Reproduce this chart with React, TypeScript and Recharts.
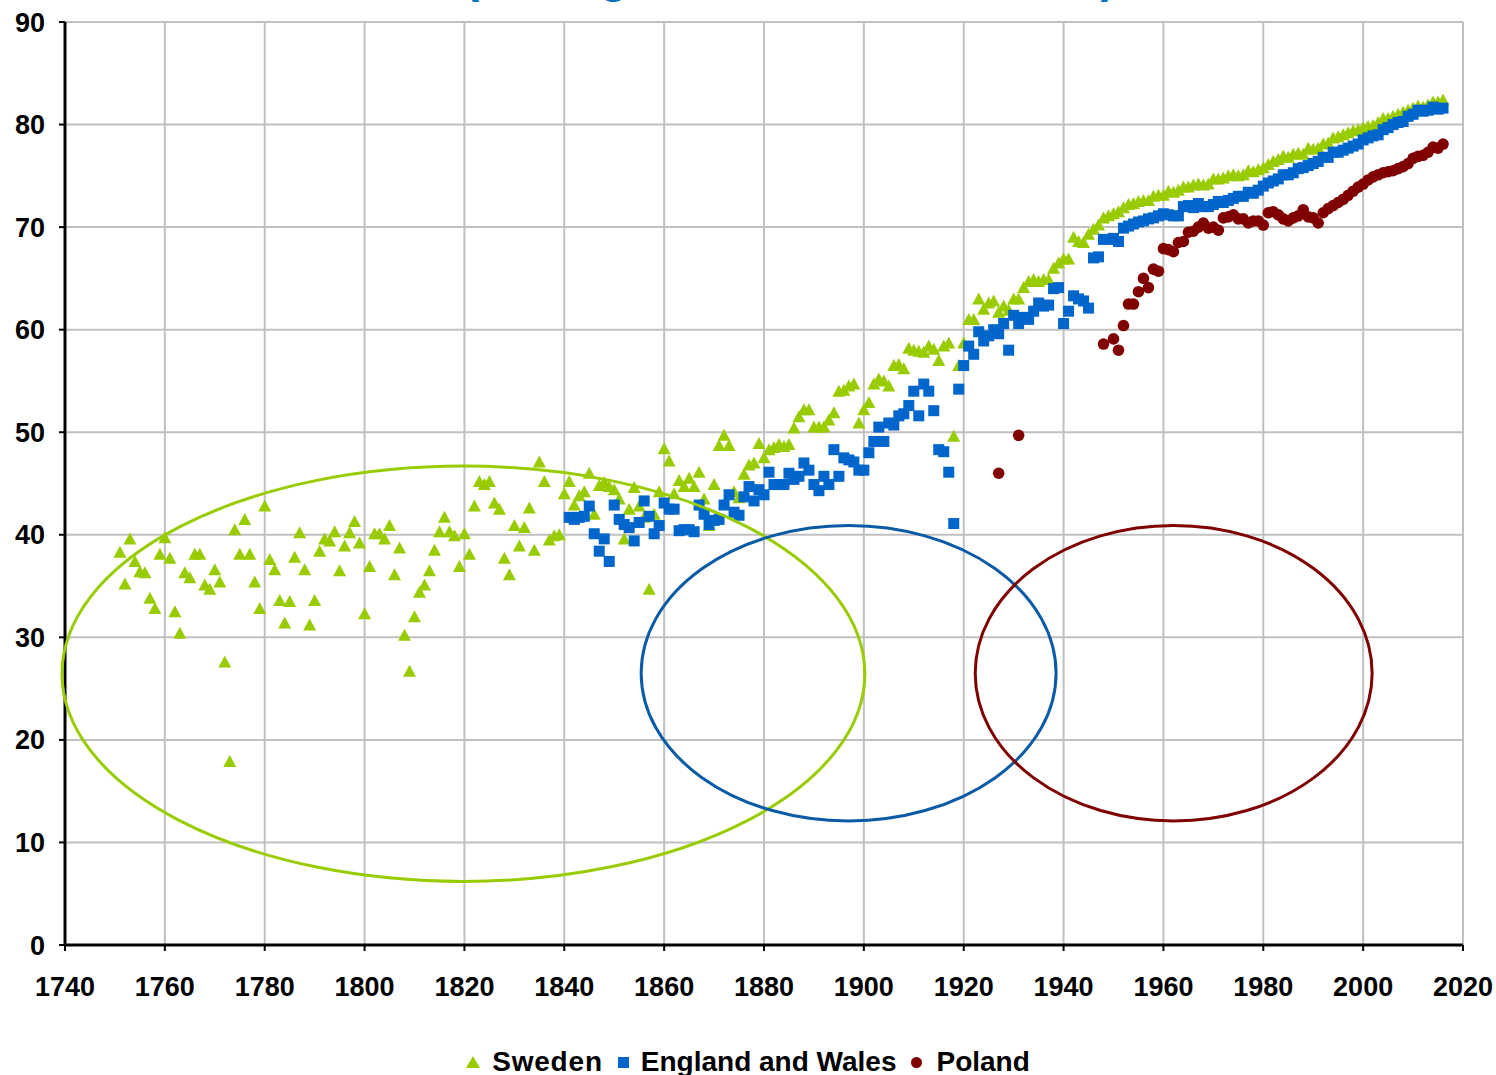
import React from "react";
import {
  ScatterChart,
  Scatter,
  XAxis,
  YAxis,
  CartesianGrid,
  ReferenceArea,
  Legend,
} from "recharts";

// axis ticks
const yearTicks = [1740, 1760, 1780, 1800, 1820, 1840, 1860, 1880, 1900, 1920, 1940, 1960, 1980, 2000, 2020];
const valueTicks = [0, 10, 20, 30, 40, 50, 60, 70, 80, 90];

// Sweden, one value per year from 1751
const swedenFirstYear = 1751;
const swedenValues = [
  38.3, 35.2, 39.6, 37.4, 36.4, 36.3, 33.8, 32.8, 38.1, 39.7, // 1751-1760
  37.7, 32.5, 30.4, 36.3, 35.8, 38.1, 38.1, 35.1, 34.7, 36.6, // 1761-1770
  35.4, 27.6, 17.9, 40.5, 38.1, 41.5, 38.1, 35.4, 32.8, 42.8, // 1771-1780
  37.6, 36.6, 33.6, 31.4, 33.5, 37.8, 40.2, 36.6, 31.2, 33.6, // 1781-1790
  38.4, 39.6, 39.4, 40.3, 36.5, 38.9, 40.2, 41.3, 39.2, 32.3, // 1791-1800
  36.9, 40.1, 40.1, 39.6, 40.9, 36.1, 38.7, 30.2, 26.7, 32.0, // 1801-1810
  34.4, 35.1, 36.5, 38.5, 40.3, 41.7, 40.3, 39.9, 36.9, 40.1, // 1811-1820
  38.1, 42.8, 45.2, 44.9, 45.2, 43.1, 42.5, 37.7, 36.1, 40.9, // 1821-1830
  38.9, 40.7, 42.6, 38.5, 47.1, 45.2, 39.5, 39.9, 40.0, 44.0, // 1831-1840
  45.2, 42.9, 43.8, 44.2, 46.0, 42.0, 44.8, 45.1, 44.7, 44.4, // 1841-1850
  43.5, 39.6, 42.5, 44.6, 42.8, 41.7, 34.7, 42.0, 44.2, 48.4, // 1851-1860
  47.2, 44.0, 45.3, 44.7, 45.5, 44.7, 46.1, 43.5, 40.9, 44.9, // 1861-1870
  48.7, 49.7, 48.7, 44.2, 43.6, 45.9, 46.8, 47.0, 48.9, 47.5, // 1871-1880
  48.3, 48.5, 48.8, 48.6, 48.8, 50.4, 51.5, 52.2, 52.2, 50.5, // 1881-1890
  50.5, 50.5, 51.2, 51.9, 54.0, 54.1, 54.5, 54.7, 50.9, 52.2, // 1891-1900
  52.9, 54.7, 55.2, 55.0, 54.5, 56.5, 56.6, 56.2, 58.2, 58.0, // 1901-1910
  57.9, 57.8, 58.4, 58.1, 57.0, 58.4, 58.7, 49.6, 56.5, 58.7, // 1911-1920
  61.0, 61.0, 63.0, 62.0, 62.6, 62.8, 61.7, 62.3, 61.9, 63.0, // 1921-1930
  63.0, 64.1, 64.7, 64.9, 64.7, 64.9, 64.9, 66.0, 66.5, 66.9, // 1931-1940
  66.9, 69.0, 68.6, 68.5, 69.3, 69.8, 70.2, 70.9, 71.1, 71.3, // 1941-1950
  71.5, 71.9, 72.2, 72.3, 72.5, 72.6, 72.6, 73.0, 73.1, 73.1, // 1951-1960
  73.5, 73.4, 73.6, 73.9, 73.9, 74.1, 74.2, 74.1, 74.2, 74.7, // 1961-1970
  74.7, 74.8, 75.0, 75.1, 75.0, 75.1, 75.5, 75.4, 75.6, 75.8, // 1971-1980
  76.1, 76.4, 76.6, 76.9, 76.8, 77.1, 77.2, 77.1, 77.7, 77.6, // 1981-1990
  77.7, 78.1, 78.2, 78.7, 78.8, 79.0, 79.2, 79.4, 79.5, 79.7, // 1991-2000
  79.8, 79.9, 80.2, 80.6, 80.6, 80.8, 81.0, 81.2, 81.4, 81.6, // 2001-2010
  81.8, 81.7, 81.9, 82.2, 82.2, 82.4, // 2011-2016
];

// England and Wales, one value per year from 1841
const englandFirstYear = 1841;
const englandValues = [
  41.7, 41.5, 41.7, 41.8, 42.8, 40.1, 38.4, 39.6, 37.4, 42.9, // 1841-1850
  41.5, 41.0, 40.7, 39.4, 41.2, 43.3, 41.8, 40.1, 40.9, 43.1, // 1851-1860
  42.5, 42.5, 40.4, 40.5, 40.5, 40.3, 42.9, 42.0, 41.0, 41.4, // 1861-1870
  41.5, 42.9, 43.9, 42.2, 41.9, 43.7, 44.7, 43.3, 44.4, 43.9, // 1871-1880
  46.1, 44.9, 44.9, 44.9, 46.0, 45.4, 45.7, 47.0, 46.3, 44.9, // 1881-1890
  44.3, 45.7, 44.9, 48.3, 45.7, 47.5, 47.3, 47.1, 46.3, 46.3, // 1891-1900
  48.0, 49.1, 50.5, 49.1, 50.9, 50.7, 51.6, 51.8, 52.6, 54.0, // 1901-1910
  51.6, 54.7, 54.0, 52.1, 48.3, 48.1, 46.1, 41.1, 54.2, 56.5, // 1911-1920
  58.4, 57.6, 59.8, 58.9, 59.4, 60.0, 59.6, 60.6, 58.0, 61.4, // 1921-1930
  60.6, 61.2, 61.0, 61.8, 62.6, 62.3, 62.4, 64.0, 64.1, 60.6, // 1931-1940
  61.8, 63.3, 63.0, 62.8, 62.1, 67.0, 67.1, 68.8, 68.8, 68.9, // 1941-1950
  68.6, 69.9, 70.1, 70.3, 70.5, 70.6, 70.8, 70.9, 71.1, 71.3, // 1951-1960
  71.2, 71.1, 71.1, 72.0, 72.1, 71.9, 72.3, 72.0, 72.0, 72.2, // 1961-1970
  72.5, 72.4, 72.6, 72.8, 73.0, 73.0, 73.4, 73.3, 73.6, 74.0, // 1971-1980
  74.3, 74.5, 74.7, 75.1, 75.1, 75.3, 75.7, 75.8, 76.0, 76.2, // 1981-1990
  76.4, 76.8, 76.8, 77.3, 77.3, 77.5, 77.7, 77.9, 78.1, 78.5, // 1991-2000
  78.7, 78.9, 79.0, 79.5, 79.7, 80.0, 80.2, 80.3, 80.8, 81.0, // 2001-2010
  81.4, 81.3, 81.4, 81.7, 81.5, 81.6, // 2011-2016
];

// Poland, scattered early years then 1948, 1950-2016
const polandYears = [
  1927, 1931, 1948,
  1950, 1951, 1952, 1953, 1954, 1955, 1956, 1957, 1958, 1959,
  1960, 1961, 1962, 1963, 1964, 1965, 1966, 1967, 1968, 1969,
  1970, 1971, 1972, 1973, 1974, 1975, 1976, 1977, 1978, 1979,
  1980, 1981, 1982, 1983, 1984, 1985, 1986, 1987, 1988, 1989,
  1990, 1991, 1992, 1993, 1994, 1995, 1996, 1997, 1998, 1999,
  2000, 2001, 2002, 2003, 2004, 2005, 2006, 2007, 2008, 2009,
  2010, 2011, 2012, 2013, 2014, 2015, 2016,
];
const polandValues = [
  46.0, 49.7, 58.6,
  59.1, 58.0, 60.4, 62.5, 62.5, 63.7, 65.0, 64.1, 65.9, 65.7,
  67.9, 67.8, 67.6, 68.5, 68.6, 69.5, 69.6, 70.0, 70.4, 69.9,
  70.0, 69.7, 70.9, 71.0, 71.2, 70.8, 70.8, 70.4, 70.6, 70.6,
  70.2, 71.4, 71.5, 71.2, 70.8, 70.6, 70.9, 71.1, 71.7, 71.0,
  70.9, 70.4, 71.4, 71.8, 72.1, 72.4, 72.7, 73.1, 73.5, 73.9,
  74.2, 74.6, 74.9, 75.1, 75.3, 75.4, 75.5, 75.7, 75.9, 76.2,
  76.7, 76.9, 77.0, 77.3, 77.8, 77.7, 78.1,
];

const sweden = swedenValues.map((value, i) => ({ year: swedenFirstYear + i, value }));
const england = englandValues.map((value, i) => ({ year: englandFirstYear + i, value }));
const poland = polandValues.map((value, i) => ({ year: polandYears[i], value }));

const GREEN = "#99cc00";
const BLUE = "#0066cc";
const RED = "#800000";
const FONT = "'Liberation Sans', Arial, sans-serif";

// highlighted regions (drawn as ellipses inside these data boxes)
const ellipses = [
  { x1: 1739.4, x2: 1900.2, y1: 6.2, y2: 46.7, color: GREEN },
  { x1: 1855.4, x2: 1938.5, y1: 12.1, y2: 40.9, color: "#0a5aa6" },
  { x1: 1922.3, x2: 2001.8, y1: 12.1, y2: 40.9, color: RED },
];

const triangle = (p: any) => (
  <polygon
    points={`${p.cx},${p.cy - 6.5} ${p.cx + 6.5},${p.cy + 5.5} ${p.cx - 6.5},${p.cy + 5.5}`}
    fill={GREEN}
  />
);
const square = (p: any) => (
  <rect x={p.cx - 5.5} y={p.cy - 5.5} width={11} height={11} fill={BLUE} />
);
const dot = (p: any) => <circle cx={p.cx} cy={p.cy} r={5.8} fill={RED} />;

const ellipseShape = (color: string) => (p: any) => (
  <ellipse
    cx={p.x + p.width / 2}
    cy={p.y + p.height / 2}
    rx={p.width / 2}
    ry={p.height / 2}
    fill="none"
    stroke={color}
    strokeWidth={3}
  />
);

const LegendContent = () => {
  const text = { fontFamily: FONT, fontWeight: "bold" as const, fontSize: 28, color: "#000" };
  return (
    <div
      style={{
        display: "flex",
        justifyContent: "center",
        alignItems: "center",
        height: 40,
        marginTop: 7,
      }}
    >
      <svg width={14} height={14} style={{ marginRight: 12 }}>
        <polygon points="7,1 14,13 0,13" fill={GREEN} />
      </svg>
      <span style={{ ...text, letterSpacing: 0.8, marginRight: 15 }}>Sweden</span>
      <svg width={11} height={11} style={{ marginRight: 12 }}>
        <rect x={0} y={0} width={11} height={11} fill={BLUE} />
      </svg>
      <span style={{ ...text, marginRight: 15 }}>England and Wales</span>
      <svg width={11} height={11} style={{ marginRight: 14 }}>
        <circle cx={5.5} cy={5.5} r={5.5} fill={RED} />
      </svg>
      <span style={text}>Poland</span>
    </div>
  );
};

const tickStyle = { fill: "#000", fontSize: 27, fontWeight: "bold", fontFamily: FONT };

export default function App() {
  return (
    <div style={{ position: "absolute", left: 0, top: 0, width: 1496, height: 1075, background: "#fff" }}>
      <ScatterChart
        width={1496}
        height={1075}
        margin={{ top: 22, right: 33, left: 10, bottom: 0 }}
      >
        <CartesianGrid stroke="#c0c0c0" strokeWidth={2} />
        <XAxis
          type="number"
          dataKey="year"
          domain={[1740, 2020]}
          ticks={yearTicks}
          interval={0}
          height={90}
          axisLine={{ stroke: "#000", strokeWidth: 3 }}
          tickLine={{ stroke: "#000", strokeWidth: 2 }}
          tickSize={6}
          tickMargin={26}
          tick={tickStyle}
        />
        <YAxis
          type="number"
          dataKey="value"
          domain={[0, 90]}
          ticks={valueTicks}
          interval={0}
          width={55}
          axisLine={{ stroke: "#000", strokeWidth: 3 }}
          tickLine={{ stroke: "#000", strokeWidth: 2 }}
          tickSize={6}
          tickMargin={14}
          tick={tickStyle}
        />
        <Scatter name="Sweden" data={sweden} shape={triangle} isAnimationActive={false} />
        <Scatter name="England and Wales" data={england} shape={square} isAnimationActive={false} />
        <Scatter name="Poland" data={poland} shape={dot} isAnimationActive={false} />
        {ellipses.map((e, i) => (
          <ReferenceArea
            key={i}
            x1={e.x1}
            x2={e.x2}
            y1={e.y1}
            y2={e.y2}
            ifOverflow="visible"
            shape={ellipseShape(e.color)}
            zIndex={1000}
          />
        ))}
        <Legend
          verticalAlign="bottom"
          height={40}
          wrapperStyle={{ left: 0, width: 1496 }}
          content={LegendContent}
        />
      </ScatterChart>
      <svg
        width={1496}
        height={30}
        style={{ position: "absolute", left: 0, top: 0, pointerEvents: "none" }}
      >
        <text
          x={790}
          y={-8}
          textAnchor="middle"
          fill="#0070c0"
          fontSize={46}
          fontWeight="bold"
          fontFamily={FONT}
        >
          (average for men and women)
        </text>
      </svg>
    </div>
  );
}
